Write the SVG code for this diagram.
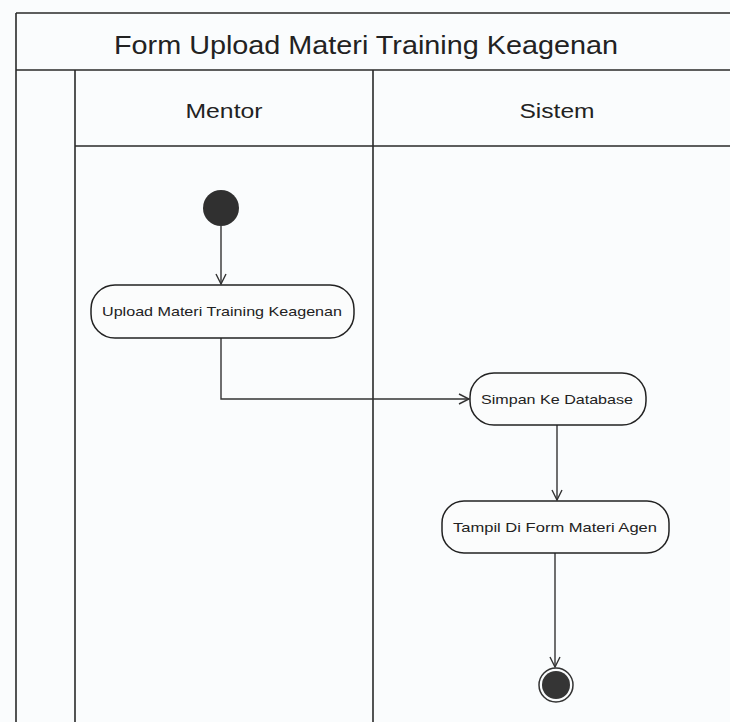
<svg xmlns="http://www.w3.org/2000/svg" width="730" height="722" viewBox="0 0 730 722">
  <defs>
    <style>
      .frame { fill: none; stroke: #2a2a2a; stroke-width: 1.6; }
      .act { fill: #fbfcfc; stroke: #222; stroke-width: 1.5; }
      .edge { fill: none; stroke: #333; stroke-width: 1.4; }
      .t { font-family: "Liberation Sans", Arial, sans-serif; fill: #222; text-anchor: middle; }
      .title { font-size: 26px; }
      .lane { font-size: 20px; }
      .lbl { font-size: 13px; }
    </style>
    <marker id="open" viewBox="0 0 12 12" refX="11" refY="6" markerWidth="12" markerHeight="12" markerUnits="userSpaceOnUse" orient="auto">
      <path d="M1,1 L11,6 L1,11" fill="none" stroke="#333" stroke-width="1.4"/>
    </marker>
  </defs>

  <rect x="0" y="0" width="730" height="722" fill="#fafcfd"/>

  <!-- swimlane frame -->
  <g id="swimlanes">
    <path class="frame" d="M16,13 H730 M16,13 V722 M16,70 H730 M75,70 V722 M373,70 V722 M75,146 H730"/>
    <text class="t title" x="366" y="54" textLength="504" lengthAdjust="spacingAndGlyphs">Form Upload Materi Training Keagenan</text>
    <text class="t lane" x="224" y="118" textLength="77" lengthAdjust="spacingAndGlyphs">Mentor</text>
    <text class="t lane" x="557" y="118" textLength="75" lengthAdjust="spacingAndGlyphs">Sistem</text>
  </g>

  <!-- connectors -->
  <g id="connectors">
    <path class="edge" d="M221,226 V284" marker-end="url(#open)"/>
    <path class="edge" d="M221,338 V399 H469" marker-end="url(#open)"/>
    <path class="edge" d="M557,425 V500" marker-end="url(#open)"/>
    <path class="edge" d="M555,553 V667" marker-end="url(#open)"/>
  </g>

  <g id="start">
    <circle cx="221" cy="208" r="18" fill="#303030"/>
  </g>

  <g id="upload">
    <rect class="act" x="91" y="285" width="263" height="53" rx="24"/>
    <text class="t lbl" x="222" y="316" textLength="240" lengthAdjust="spacingAndGlyphs">Upload Materi Training Keagenan</text>
  </g>

  <g id="simpan">
    <rect class="act" x="470" y="373" width="176" height="52" rx="24"/>
    <text class="t lbl" x="557" y="404" textLength="152" lengthAdjust="spacingAndGlyphs">Simpan Ke Database</text>
  </g>

  <g id="tampil">
    <rect class="act" x="442" y="501" width="227" height="52" rx="22"/>
    <text class="t lbl" x="555" y="532" textLength="204" lengthAdjust="spacingAndGlyphs">Tampil Di Form Materi Agen</text>
  </g>

  <g id="end">
    <circle cx="556" cy="685" r="17" fill="#fafcfd" stroke="#333" stroke-width="1.5"/>
    <circle cx="556" cy="685" r="14" fill="#353535"/>
  </g>
</svg>
